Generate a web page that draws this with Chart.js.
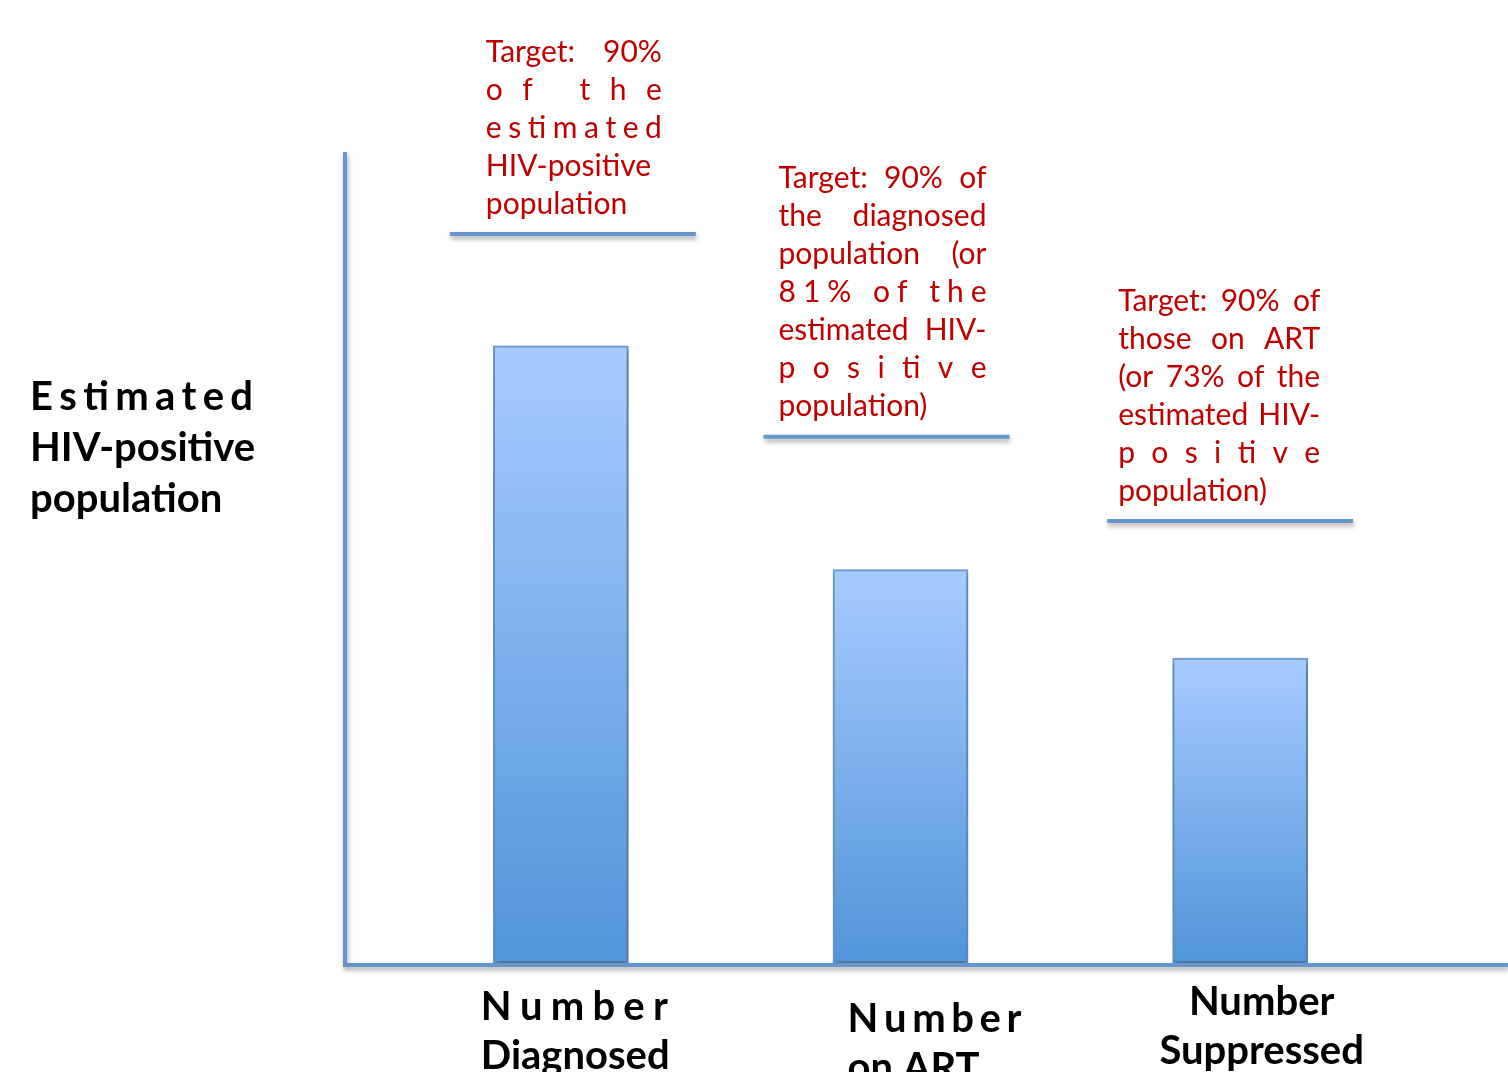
<!DOCTYPE html>
<html>
<head>
<meta charset="utf-8">
<script src="https://cdn.jsdelivr.net/npm/chart.js@4.4.1/dist/chart.umd.min.js"></script>
<style>
  html, body { margin: 0; padding: 0; background: #fff; overflow: hidden; }
</style>
</head>
<body>
<canvas id="grafico" width="1508" height="1072"></canvas>
<script>
// Datos (escala 0-100 = poblacion estimada)
const categories = ["Number Diagnosed", "Number on ART", "Number Suppressed"];
const values = [76.1, 48.5, 37.6];
const targets = [89.9, 64.9, 54.5];
const axisMax = 100;

// Textos (linea, modo de justificado)
const targetNotes = [
  [["Target: 90%", "words"], ["of the", "chars"], ["estimated", "chars"], ["HIV-positive", "left"], ["population", "left"]],
  [["Target: 90% of", "words"], ["the diagnosed", "words"], ["population (or", "words"], ["81% of the", "chars"],
   ["estimated HIV-", "words"], ["positive", "chars"], ["population)", "left"]],
  [["Target: 90% of", "words"], ["those on ART", "words"], ["(or 73% of the", "words"], ["estimated HIV-", "words"],
   ["positive", "chars"], ["population)", "left"]]
];
const yTitle = [["Estimated", "chars"], ["HIV-positive", "left"], ["population", "left"]];
const xLabelModes = [["chars", "left"], ["chars", "left"], ["center", "center"]];

// Estilos y posiciones (px)
const AXIS_COLOR = "#6496cd";
const RED = "#c00000";
const NOTE_FONT = "30px Lato";
const BOLD_FONT = "bold 40px Lato";
const noteBoxes = [{ dx: -75, w: 176 }, { dx: -122, w: 208 }, { dx: -122, w: 202 }];
const targetDx = [12, -14, -10];
const xLabelBoxes = [{ dx: -80, w: 187, y: 1007 }, { dx: -53, w: 174, y: 1019 }, { dx: -80, w: 203, y: 1002 }];

function units(text, mode) {
  if (mode === "words") return text.split(" ");
  return text.match(/ti|./g);
}

function drawLine(ctx, text, mode, x, w, y) {
  if (mode === "left") { ctx.textAlign = "left"; ctx.fillText(text, x, y); return; }
  if (mode === "center") { ctx.textAlign = "center"; ctx.fillText(text, x + w / 2, y); return; }
  const parts = units(text, mode);
  const widths = parts.map(p => ctx.measureText(p).width);
  const total = widths.reduce((a, b) => a + b, 0);
  const gap = parts.length > 1 ? (w - total) / (parts.length - 1) : 0;
  ctx.textAlign = "left";
  let cx = x;
  parts.forEach((p, i) => {
    ctx.fillText(p, cx, y);
    cx += widths[i] + gap;
  });
}

function setShadow(ctx) {
  ctx.shadowColor = "rgba(0,0,0,0.35)";
  ctx.shadowBlur = 5;
  ctx.shadowOffsetX = 1;
  ctx.shadowOffsetY = 3;
}

const shadowBars = {
  id: "shadowBars",
  beforeDatasetsDraw(chart) {
    chart.ctx.save();
    setShadow(chart.ctx);
  },
  afterDatasetsDraw(chart) {
    chart.ctx.restore();
  }
};

const decor = {
  id: "decor",
  afterDatasetsDraw(chart) {
    const ctx = chart.ctx;
    const area = chart.chartArea;
    const x = chart.scales.x;
    const y = chart.scales.y;

    // ejes
    ctx.save();
    setShadow(ctx);
    ctx.strokeStyle = AXIS_COLOR;
    ctx.lineWidth = 4;
    ctx.beginPath();
    ctx.moveTo(345, area.top);
    ctx.lineTo(345, area.bottom + 2);
    ctx.lineTo(1508, area.bottom + 2);
    ctx.stroke();

    // lineas de meta
    targets.forEach((t, i) => {
      const cx = x.getPixelForValue(i) + targetDx[i];
      const py = y.getPixelForValue(t);
      ctx.beginPath();
      ctx.moveTo(cx - 123, py);
      ctx.lineTo(cx + 123, py);
      ctx.stroke();
    });
    ctx.restore();

    // notas en rojo
    ctx.save();
    ctx.fillStyle = RED;
    ctx.font = NOTE_FONT;
    ctx.textBaseline = "middle";
    targetNotes.forEach((lines, i) => {
      const left = x.getPixelForValue(i) + noteBoxes[i].dx;
      const lastY = y.getPixelForValue(targets[i]) - 30;
      lines.forEach((l, j) => {
        const ly = lastY - (lines.length - 1 - j) * 38;
        drawLine(ctx, l[0], l[1], left, noteBoxes[i].w, ly);
      });
    });

    // titulo del eje Y y etiquetas X
    ctx.fillStyle = "#000";
    ctx.font = BOLD_FONT;
    yTitle.forEach((l, j) => drawLine(ctx, l[0], l[1], 30, 223, 397 + j * 51));
    categories.forEach((c, i) => {
      const b = xLabelBoxes[i];
      const left = x.getPixelForValue(i) + b.dx;
      const k = c.indexOf(" ");
      const lines = [c.slice(0, k), c.slice(k + 1)];
      lines.forEach((l, j) => drawLine(ctx, l, xLabelModes[i][j], left, b.w, b.y + j * 49));
    });
    ctx.restore();
  }
};

function barGradient(context) {
  const chart = context.chart;
  const area = chart.chartArea;
  if (!area) return "#7fb0ea";
  const top = chart.scales.y.getPixelForValue(values[context.dataIndex]);
  const g = chart.ctx.createLinearGradient(0, top, 0, area.bottom);
  g.addColorStop(0, "#a8cbfe");
  g.addColorStop(1, "#5095d9");
  return g;
}

new Chart(document.getElementById("grafico"), {
  type: "bar",
  data: {
    labels: categories,
    datasets: [{
      data: values,
      backgroundColor: barGradient,
      borderColor: "#6b9bd2",
      borderWidth: 2,
      borderSkipped: false,
      barThickness: 135
    }]
  },
  options: {
    responsive: false,
    animation: false,
    devicePixelRatio: 1,
    layout: { padding: { left: 391, right: 98, top: 152, bottom: 109 } },
    scales: {
      x: { display: false },
      y: { display: false, min: 0, max: axisMax }
    },
    plugins: { legend: { display: false }, tooltip: { enabled: false } }
  },
  plugins: [shadowBars, decor]
});
</script>
</body>
</html>
